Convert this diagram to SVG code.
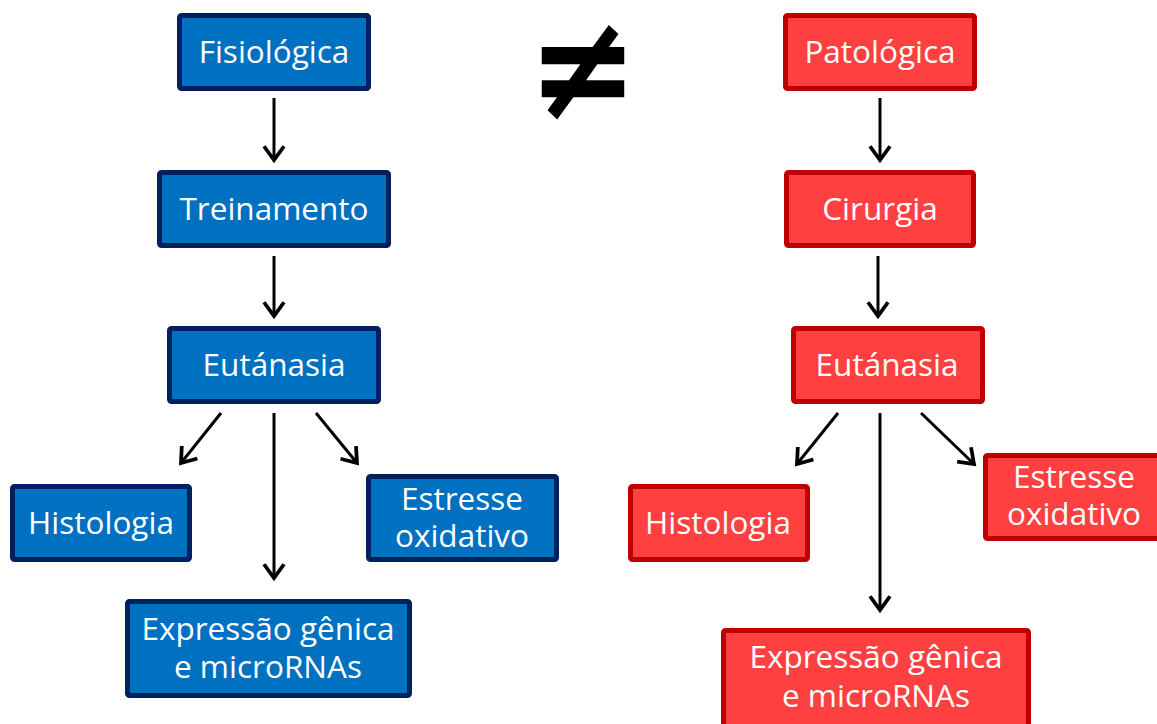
<svg xmlns="http://www.w3.org/2000/svg" width="1157" height="724" viewBox="0 0 1157 724">
<defs>
<marker id="ah" markerUnits="userSpaceOnUse" markerWidth="30" markerHeight="30" viewBox="-16 -12 20 24" refX="0" refY="0" orient="auto">
<path d="M-11,-8 L0,0 L-11,8" fill="none" stroke="#000" stroke-width="3" stroke-linejoin="miter"/>
</marker>
<style>
.b rect{fill:#0070C0;stroke:#002060;stroke-width:5}
.r rect{fill:#FF4040;stroke:#C00000;stroke-width:5}
text.t{font-family:"Open Sans","DejaVu Sans",sans-serif;font-size:31.5px;fill:#fff;text-anchor:middle}
#connectors line{stroke:#000;stroke-width:3;marker-end:url(#ah)}
</style>
</defs>
<rect width="1157" height="724" fill="#fff"/>
<g id="neq"><text transform="translate(583,119) scale(1.08,1.22)" x="0" y="0" font-family="DejaVu Sans" font-weight="bold" font-size="122" text-anchor="middle" fill="#000">≠</text></g>
<g id="b-fisio" class="b"><rect x="179.5" y="15.5" width="189" height="73" rx="2"/><text class="t" x="274" y="63">Fisiológica</text></g>
<g id="b-trein" class="b"><rect x="159.5" y="172.5" width="229" height="73" rx="2"/><text class="t" x="274" y="220">Treinamento</text></g>
<g id="b-eut" class="b"><rect x="169.5" y="328.5" width="209" height="73" rx="2"/><text class="t" x="274" y="376">Eutánasia</text></g>
<g id="b-hist" class="b"><rect x="12.5" y="486.5" width="177" height="73" rx="2"/><text class="t" x="101" y="534">Histologia</text></g>
<g id="b-est" class="b"><rect x="368.5" y="476.5" width="188" height="83" rx="2"/><text class="t" x="462" y="510">Estresse</text><text class="t" x="462" y="547">oxidativo</text></g>
<g id="b-exp" class="b"><rect x="127.5" y="601.5" width="282" height="94" rx="2"/><text class="t" x="268" y="640">Expressão gênica</text><text class="t" x="268" y="678">e microRNAs</text></g>
<g id="r-pato" class="r"><rect x="785.5" y="15.5" width="189" height="73" rx="2"/><text class="t" x="880" y="63">Patológica</text></g>
<g id="r-cir" class="r"><rect x="786.5" y="172.5" width="187" height="73" rx="2"/><text class="t" x="880" y="220">Cirurgia</text></g>
<g id="r-eut" class="r"><rect x="793.5" y="328.5" width="189" height="73" rx="2"/><text class="t" x="887" y="376">Eutánasia</text></g>
<g id="r-hist" class="r"><rect x="630.5" y="486.5" width="177" height="73" rx="2"/><text class="t" x="718" y="534">Histologia</text></g>
<g id="r-est" class="r"><rect x="985.5" y="455.5" width="180" height="83" rx="2"/><text class="t" x="1074" y="488">Estresse</text><text class="t" x="1074" y="525">oxidativo</text></g>
<g id="r-exp" class="r"><rect x="723.5" y="630.5" width="305" height="100" rx="2"/><text class="t" x="876" y="668">Expressão gênica</text><text class="t" x="876" y="707">e microRNAs</text></g>
<g id="connectors">
<line x1="274" y1="98" x2="274" y2="160"/>
<line x1="274" y1="256" x2="274" y2="316"/>
<line x1="274" y1="413" x2="274" y2="578"/>
<line x1="221" y1="413" x2="181" y2="463"/>
<line x1="316" y1="413" x2="357" y2="463"/>
<line x1="880" y1="98" x2="880" y2="160"/>
<line x1="878" y1="256" x2="878" y2="316"/>
<line x1="880" y1="413" x2="880" y2="610"/>
<line x1="838" y1="413" x2="797" y2="464"/>
<line x1="921" y1="413" x2="974" y2="464"/>
</g>
</svg>
